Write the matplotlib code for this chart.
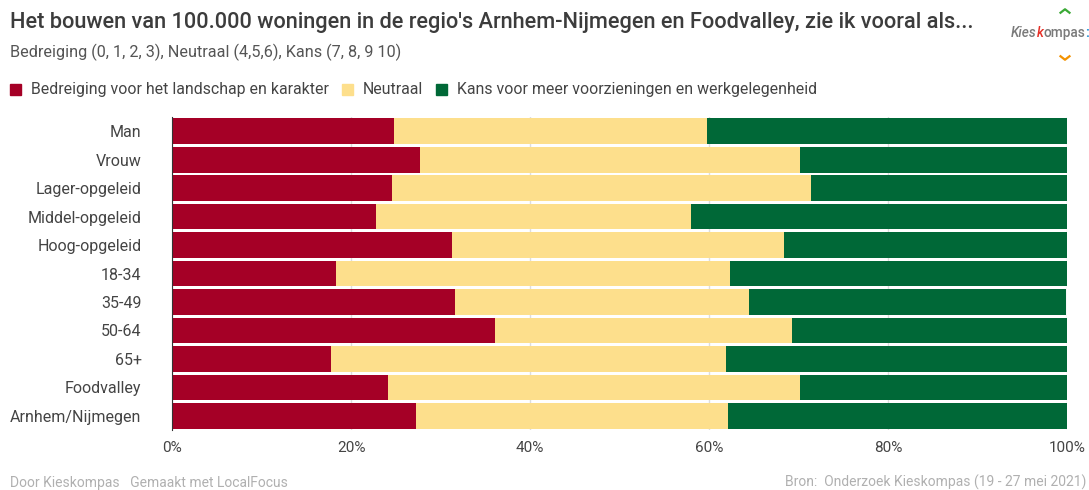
import matplotlib.pyplot as plt
from matplotlib.lines import Line2D
import numpy as np

plt.rcParams['font.family'] = ['Roboto', 'DejaVu Sans']

# Data (percentages)
categories = ['Man', 'Vrouw', 'Lager-opgeleid', 'Middel-opgeleid', 'Hoog-opgeleid',
              '18-34', '35-49', '50-64', '65+', 'Foodvalley', 'Arnhem/Nijmegen']
bedreiging = [24.8, 27.7, 24.6, 22.8, 31.3, 18.3, 31.6, 36.1, 17.7, 24.1, 27.2]
neutraal = [35.0, 42.4, 46.8, 35.2, 37.1, 44.0, 32.9, 33.1, 44.2, 46.1, 34.9]
kans = [40.2, 29.9, 28.6, 42.0, 31.6, 37.7, 35.4, 30.9, 38.1, 29.8, 37.9]

series_names = ['Bedreiging voor het landschap en karakter', 'Neutraal',
                'Kans voor meer voorzieningen en werkgelegenheid']
colors = ['#a50026', '#fddf8c', '#006837']

fig = plt.figure(figsize=(10.89, 4.90), dpi=100)
ax = fig.add_axes([0.158, 0.1224, 0.822, 0.6388])

y = np.arange(len(categories))
left = np.zeros(len(categories))
for vals, c in zip([bedreiging, neutraal, kans], colors):
    ax.barh(y, vals, left=left, height=0.9, color=c, zorder=3)
    left += np.array(vals)

ax.set_xlim(0, 100)
ax.set_ylim(len(categories) - 0.5, -0.5)
ax.set_yticks(y)
ax.set_yticklabels(categories, fontsize=11.5, color='#444444')
ax.set_xticks([0, 20, 40, 60, 80, 100])
ax.set_xticklabels(['0%', '20%', '40%', '60%', '80%', '100%'], fontsize=11, color='#444444')
ax.tick_params(axis='y', length=0, pad=22)
ax.tick_params(axis='x', length=0, pad=8)
ax.grid(axis='x', color='#dddddd', linewidth=1, zorder=0)
for s in ['top', 'right', 'bottom']:
    ax.spines[s].set_visible(False)
ax.spines['left'].set_color('#333333')
ax.spines['left'].set_zorder(4)

# Title and subtitle
fig.text(0.009, 0.955, "Het bouwen van 100.000 woningen in de regio's Arnhem-Nijmegen en Foodvalley, zie ik vooral als...",
         fontsize=15.7, fontweight='medium', color='#3c3c3c', va='center', ha='left')
fig.text(0.009, 0.893, 'Bedreiging (0, 1, 2, 3), Neutraal (4,5,6), Kans (7, 8, 9 10)',
         fontsize=11.7, color='#555555', va='center', ha='left')

# Legend
W = fig.bbox.width
x = 10 / W
fig.canvas.draw()
r = fig.canvas.get_renderer()
for name, c in zip(series_names, colors):
    fig.patches.append(plt.Rectangle((x, 0.806), 11 / W, 0.0224, color=c,
                                     transform=fig.transFigure, figure=fig))
    t = fig.text(x + 21 / W, 0.817, name, fontsize=11.4, color='#444444', va='center', ha='left')
    x = t.get_window_extent(renderer=r).x1 / W + 13 / W

# Footer
fig.text(0.009, 0.015, 'Door Kieskompas   Gemaakt met LocalFocus', fontsize=10,
         color='#b0b0b0', va='center', ha='left')
fig.text(0.998, 0.015, 'Bron:  Onderzoek Kieskompas (19 - 27 mei 2021)', fontsize=10,
         color='#b0b0b0', va='center', ha='right')

# Logo
lx = 1011 / W
ly = 1 - 33 / 490
for part, col, st, wt in [('Kies', '#7a7a7a', 'italic', 'medium'), ('k', '#e63027', 'italic', 'medium'),
                          ('ompas', '#7a7a7a', 'normal', 'medium'), (':', '#1d8fd6', 'normal', 'bold')]:
    t = fig.text(lx, ly, part, fontsize=9.8, style=st, fontweight=wt, color=col, va='center', ha='left')
    lx = t.get_window_extent(renderer=r).x1 / W
cx = 1065 / W
for yy, dy, col in [(1 - 11 / 490, 3.5 / 490, '#3aa935'), (1 - 58 / 490, -3.5 / 490, '#f39200')]:
    fig.add_artist(Line2D([cx - 4.5 / W, cx, cx + 4.5 / W], [yy - dy / 2, yy + dy / 2, yy - dy / 2],
                          color=col, linewidth=1.6, transform=fig.transFigure))

fig.savefig('out.png', dpi=100)
